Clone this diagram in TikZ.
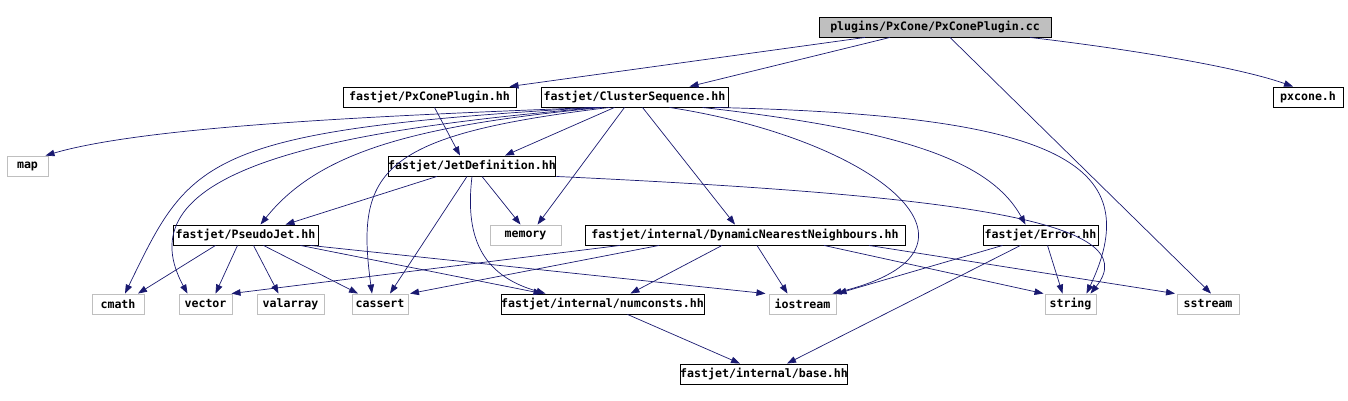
\documentclass[tikz,border=0pt]{standalone}
\usepackage{fontspec}
\setmonofont{DejaVu Sans Mono}
\usepackage{tikz}
\usetikzlibrary{arrows.meta}
\definecolor{edgeblue}{HTML}{191970}
\definecolor{sysgray}{HTML}{BFBFBF}

\begin{document}
\begin{tikzpicture}[
    x=1pt, y=-1pt,
    every node/.style={font=\fontsize{11.6}{13}\selectfont\ttfamily\bfseries, inner xsep=0pt, minimum height=20pt},
    box/.style={rectangle, draw=black, line width=0.9pt},
    sysbox/.style={rectangle, draw=sysgray, line width=0.9pt},
    rootbox/.style={box, fill=sysgray},
    arrow/.style={-{Triangle[length=9pt,width=6.5pt]}, draw=edgeblue, line width=0.7pt}
]
\useasboundingbox (0,0) rectangle (1348,401);

% top rows
\node[rootbox, minimum width=232pt] (root) at (935,27) {plugins/PxCone/PxConePlugin.cc};
\node[box, minimum width=173pt] (pxplugin) at (429.5,97) {fastjet/PxConePlugin.hh};
\node[box, minimum width=187pt] (clusterseq) at (634.5,97) {fastjet/ClusterSequence.hh};
\node[box, minimum width=70pt] (pxcone) at (1308,97) {pxcone.h};
\node[sysbox, minimum width=41pt] (map) at (27.5,166) {map};
\node[box, minimum width=164pt] (jetdef) at (472,166) {fastjet/JetDefinition.hh};
\node[box, minimum width=145pt] (pseudojet) at (245.5,235) {fastjet/PseudoJet.hh};
\node[sysbox, minimum width=71pt] (memory) at (525.5,235) {memory};
\node[box, minimum width=320pt] (dnn) at (745,235) {fastjet/internal/DynamicNearestNeighbours.hh};
\node[box, minimum width=115pt] (error) at (1040.5,235) {fastjet/Error.hh};

% bottom rows
\node[sysbox, minimum width=52pt] (cmath) at (118,304) {cmath};
\node[sysbox, minimum width=53pt] (vector) at (205.5,304) {vector};
\node[sysbox, minimum width=67pt] (valarray) at (290.5,304) {valarray};
\node[sysbox, minimum width=56pt] (cassert) at (380,304) {cassert};
\node[box, minimum width=203pt] (numconsts) at (602.5,304) {fastjet/internal/numconsts.hh};
\node[sysbox, minimum width=67pt] (iostream) at (802.5,304) {iostream};
\node[sysbox, minimum width=51pt] (string) at (1070.5,304) {string};
\node[sysbox, minimum width=62pt] (sstream) at (1208,304) {sstream};
\node[box, minimum width=162pt] (base) at (764,374) {fastjet/internal/base.hh};

% from the plugin source
\draw[arrow] ([xshift=-70pt]root.south) -- ([xshift=80pt]pxplugin.north);
\draw[arrow] ([xshift=-45pt]root.south) -- ([xshift=55pt]clusterseq.north);
\draw[arrow] ([xshift=95pt]root.south) .. controls (1120,48) and (1235,66) .. ([xshift=-15pt]pxcone.north);
\draw[arrow] ([xshift=15pt]root.south) -- ([xshift=3pt]sstream.north);
\draw[arrow] ([xshift=5pt]pxplugin.south) -- ([xshift=-12pt]jetdef.north);

% ClusterSequence.hh
\draw[arrow] ([xshift=-40pt]clusterseq.south) .. controls (400,115) and (150,125) .. ([xshift=18pt]map.north);
\draw[arrow] ([xshift=-38pt]clusterseq.south) .. controls (200,130) and (190,160) .. ([xshift=7pt]cmath.north);
\draw[arrow] ([xshift=-35pt]clusterseq.south) .. controls (330,130) and (120,170) .. ([xshift=-18pt]vector.north);
\draw[arrow] ([xshift=-32pt]clusterseq.south) .. controls (420,125) and (320,150) .. ([xshift=15pt]pseudojet.north);
\draw[arrow] ([xshift=-25pt]clusterseq.south) .. controls (380,135) and (355,170) .. ([xshift=-8pt]cassert.north);
\draw[arrow] ([xshift=-20pt]clusterseq.south) -- ([xshift=33pt]jetdef.north);
\draw[arrow] ([xshift=-10pt]clusterseq.south) -- ([xshift=12pt]memory.north);
\draw[arrow] ([xshift=8pt]clusterseq.south) -- ([xshift=-10pt]dnn.north);
\draw[arrow] ([xshift=35pt]clusterseq.south) .. controls (880,140) and (1010,250) .. ([xshift=30pt]iostream.north);
\draw[arrow] ([xshift=68pt]clusterseq.south) .. controls (900,130) and (990,160) .. ([xshift=-15pt]error.north);
\draw[arrow] ([xshift=80pt]clusterseq.south) .. controls (1050,115) and (1150,160) .. ([xshift=16pt]string.north);

% JetDefinition.hh
\draw[arrow] ([xshift=-35pt]jetdef.south) -- ([xshift=40pt]pseudojet.north);
\draw[arrow] ([xshift=-5pt]jetdef.south) -- ([xshift=10pt]cassert.north);
\draw[arrow] ([xshift=10pt]jetdef.south) -- ([xshift=-5pt]memory.north);
\draw[arrow] (jetdef.south) .. controls (465,235) and (480,275) .. ([xshift=-57pt]numconsts.north);
\draw[arrow] (jetdef.south east) .. controls (950,195) and (1150,220) .. ([xshift=20pt]string.north);

% PseudoJet.hh
\draw[arrow] ([xshift=-30pt]pseudojet.south) -- ([xshift=20pt]cmath.north);
\draw[arrow] ([xshift=-8pt]pseudojet.south) -- ([xshift=10pt]vector.north);
\draw[arrow] ([xshift=8pt]pseudojet.south) -- ([xshift=-12pt]valarray.north);
\draw[arrow] ([xshift=18pt]pseudojet.south) -- ([xshift=-22pt]cassert.north);
\draw[arrow] ([xshift=55pt]pseudojet.south) -- ([xshift=-60pt]numconsts.north);
\draw[arrow] ([xshift=65pt]pseudojet.south) -- ([xshift=-37pt]iostream.north);

% DynamicNearestNeighbours.hh
\draw[arrow] ([xshift=-125pt]dnn.south) -- ([xshift=26pt]vector.north);
\draw[arrow] ([xshift=-86pt]dnn.south) -- ([xshift=30pt]cassert.north);
\draw[arrow] ([xshift=-23pt]dnn.south) -- ([xshift=28pt]numconsts.north);
\draw[arrow] ([xshift=12pt]dnn.south) -- ([xshift=-15pt]iostream.north);
\draw[arrow] ([xshift=79pt]dnn.south) -- ([xshift=-27pt]string.north);
\draw[arrow] ([xshift=124pt]dnn.south) -- ([xshift=-33pt]sstream.north);

% Error.hh and numconsts.hh
\draw[arrow] ([xshift=-38pt]error.south) -- ([xshift=35pt]iostream.north);
\draw[arrow] ([xshift=7pt]error.south) -- ([xshift=-8pt]string.north);
\draw[arrow] ([xshift=-20pt]error.south) -- ([xshift=23pt]base.north);
\draw[arrow] ([xshift=25pt]numconsts.south) -- ([xshift=-24pt]base.north);
\end{tikzpicture}
\end{document}
